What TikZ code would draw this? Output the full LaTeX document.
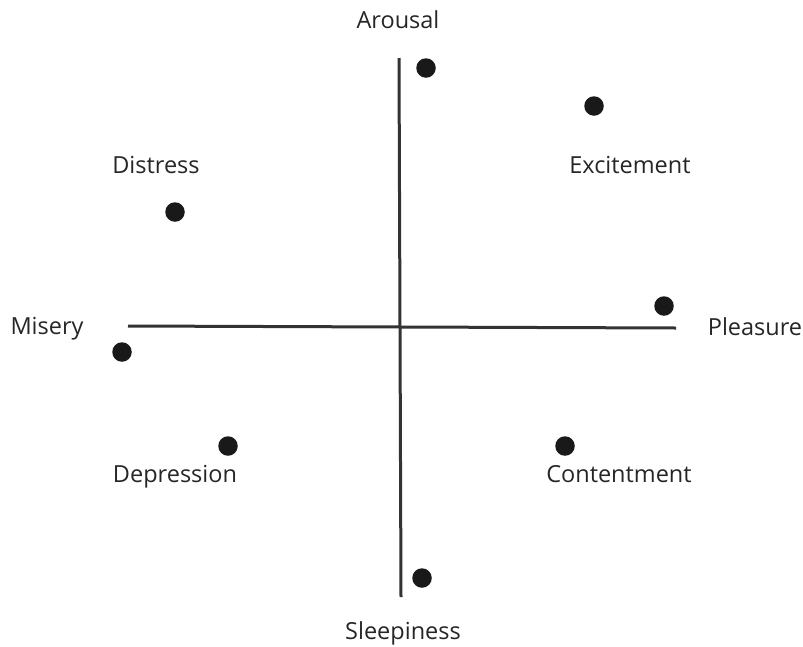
\documentclass[tikz,border=0pt]{standalone}
\usepackage{fontspec}
\setmainfont{Open Sans}
\begin{document}
\begin{tikzpicture}[x=1pt,y=-1pt,
  axis/.style={line width=3pt,draw=black!80},
  dot/.style={circle,fill=black!90,inner sep=0pt,minimum size=19.5pt},
  lab/.style={font=\fontsize{23.5}{27}\selectfont,text=black!85,inner sep=0pt}]
\useasboundingbox (0,0) rectangle (803,646);
\coordinate (top) at (399,58);
\coordinate (bot) at (401,597);
\coordinate (left) at (128,326);
\coordinate (right) at (676,328);
\draw[axis] (top) -- (bot);
\draw[axis] (left) -- (right);
\node[dot] (d1) at (426,68) {};
\node[dot] (d2) at (594,106) {};
\node[dot] (d3) at (175,212) {};
\node[dot] (d4) at (664,306) {};
\node[dot] (d5) at (122,352) {};
\node[dot] (d6) at (228,446) {};
\node[dot] (d7) at (565,446) {};
\node[dot] (d8) at (422,578) {};
\node[lab] (arousal) at (398,20) {Arousal};
\node[lab] (excitement) at (630,165) {Excitement};
\node[lab] (distress) at (156,165) {Distress};
\node[lab] (misery) at (47,329) {Misery};
\node[lab] (pleasure) at (755,327) {Pleasure};
\node[lab] (depression) at (175,477) {Depression};
\node[lab] (contentment) at (619,474) {Contentment};
\node[lab] (sleepiness) at (403,633) {Sleepiness};
\end{tikzpicture}
\end{document}
